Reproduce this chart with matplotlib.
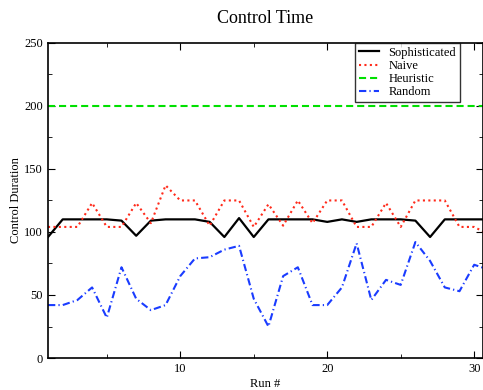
import numpy as np
import matplotlib.pyplot as plt
from matplotlib.ticker import MultipleLocator

plt.rcParams['font.family'] = ['Liberation Serif', 'DejaVu Serif']

runs = list(range(1, 32))
sophisticated = [96, 110, 110, 110, 110, 109, 97, 109, 110, 110, 110, 108, 96, 111, 96, 110,
                 110, 110, 110, 108, 110, 108, 110, 110, 110, 109, 96, 110, 110, 110, 110]
naive = [104, 104, 104, 123, 104, 104, 123, 107, 137, 125, 125, 105, 125, 125, 104, 122,
         105, 125, 107, 125, 125, 104, 104, 123, 104, 125, 125, 125, 104, 104, 98]
heuristic = [200] * 31
random_ = [42, 42, 46, 56, 32, 72, 47, 38, 42, 65, 79, 80, 86, 89, 47, 25,
           65, 72, 42, 42, 56, 91, 46, 62, 58, 92, 77, 56, 53, 74, 70]

fig = plt.figure(figsize=(4.83, 3.9), dpi=100)
ax = fig.add_axes([0.0994, 0.082, 0.9006, 0.808])

ax.plot(runs, sophisticated, color='black', lw=1.6, label='Sophisticated')
ax.plot(runs, naive, color='#ff2a1a', lw=1.5, linestyle=(0, (1, 1.6)), label='Naive')
ax.plot(runs, heuristic, color='#00e000', lw=1.5, linestyle=(0, (3.4, 1.9)), label='Heuristic')
ax.plot(runs, random_, color='#1a3cff', lw=1.5, linestyle=(0, (3.5, 1.5, 0.6, 1.5)), label='Random')

ax.set_xlim(1, 30.6)
ax.set_ylim(0, 250)
ax.xaxis.set_major_locator(MultipleLocator(10))
ax.xaxis.set_minor_locator(MultipleLocator(5))
ax.yaxis.set_major_locator(MultipleLocator(50))
ax.yaxis.set_minor_locator(MultipleLocator(25))
ax.tick_params(which='both', direction='in', top=True, right=True, labelsize=9)
ax.tick_params(which='major', length=5)
ax.tick_params(which='minor', length=3)
for s in ax.spines.values():
    s.set_linewidth(1.2)

ax.set_title('Control Time', fontsize=13, pad=14)
ax.set_xlabel('Run #', fontsize=9, labelpad=2)
ax.set_ylabel('Control Duration', fontsize=9, labelpad=2)

leg = ax.legend(loc='upper right', bbox_to_anchor=(0.947, 1.0), borderaxespad=0,
                fontsize=9, frameon=True, fancybox=False, handlelength=1.6,
                labelspacing=0.1, borderpad=0.3)
leg.get_frame().set_edgecolor('black')
leg.get_frame().set_linewidth(1.0)

fig.savefig('out.png', dpi=100)
